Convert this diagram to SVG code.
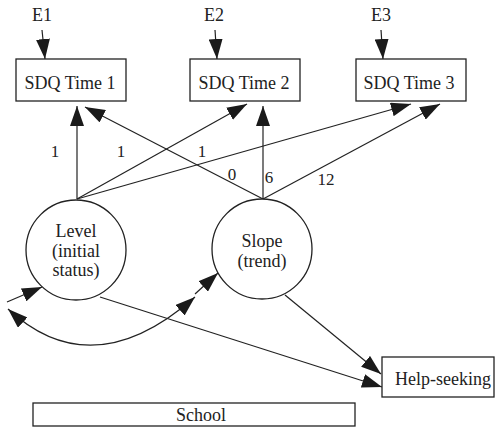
<svg xmlns="http://www.w3.org/2000/svg" width="495" height="427" viewBox="0 0 495 427">
<defs>
<marker id="ah" viewBox="0 0 20 14" refX="20" refY="7" markerWidth="20" markerHeight="14" markerUnits="userSpaceOnUse" orient="auto-start-reverse">
<path d="M0,0 L20,7 L0,14 z" fill="#1a1a1a"/>
</marker>
<style>
.box{fill:#fff;stroke:#222;stroke-width:1.3}
.lat{fill:#fff;stroke:#222;stroke-width:1.3}
.t{font-family:"Liberation Serif","Times New Roman",serif;font-size:18px;fill:#222;text-anchor:middle}
.n{font-family:"Liberation Serif","Times New Roman",serif;font-size:17px;fill:#222;text-anchor:middle}
.c{fill:none;stroke:#222;stroke-width:1.2;marker-end:url(#ah)}
</style>
</defs>
<g id="connectors">
<line class="c" x1="42" y1="30" x2="45" y2="59"/>
<line class="c" x1="215" y1="30" x2="217" y2="59"/>
<line class="c" x1="381" y1="30" x2="383" y2="59"/>
<line class="c" x1="77" y1="199" x2="77" y2="106"/>
<line class="c" x1="77" y1="199" x2="247" y2="104"/>
<line class="c" x1="77" y1="199" x2="411" y2="104"/>
<line class="c" x1="263" y1="199" x2="85" y2="107"/>
<line class="c" x1="263" y1="199" x2="263" y2="106"/>
<line class="c" x1="263" y1="199" x2="440" y2="104"/>
<line class="c" x1="100" y1="297" x2="382" y2="387"/>
<line class="c" x1="285" y1="295" x2="381" y2="374"/>
<line class="c" x1="7" y1="302" x2="42" y2="287"/>
<line class="c" x1="195" y1="294" x2="218" y2="273"/>
<path class="c" d="M8,309 Q92.5,387 195,297" style="marker-start:url(#ah)"/>
<text class="n" x="55" y="157">1</text>
<text class="n" x="121" y="157">1</text>
<text class="n" x="202" y="157">1</text>
<text class="n" x="232" y="180">0</text>
<text class="n" x="269" y="183">6</text>
<text class="n" x="326" y="185">12</text>
</g>
<g id="E1"><text class="t" x="42" y="21">E1</text></g>
<g id="E2"><text class="t" x="214" y="21">E2</text></g>
<g id="E3"><text class="t" x="381" y="21">E3</text></g>
<g id="sdq1"><rect class="box" x="16" y="59" width="110" height="42"/><text class="t" x="70" y="89">SDQ Time 1</text></g>
<g id="sdq2"><rect class="box" x="190" y="59" width="110" height="42"/><text class="t" x="244" y="89">SDQ Time 2</text></g>
<g id="sdq3"><rect class="box" x="356" y="59" width="110" height="42"/><text class="t" x="409" y="89">SDQ Time 3</text></g>
<g id="level"><circle class="lat" cx="76" cy="250" r="50"/><text class="t" x="76" y="237">Level</text><text class="t" x="76" y="257">(initial</text><text class="t" x="76" y="276">status)</text></g>
<g id="slope"><circle class="lat" cx="262" cy="249" r="50"/><text class="t" x="262" y="247">Slope</text><text class="t" x="262" y="267">(trend)</text></g>
<g id="help"><rect class="box" x="382" y="357" width="112" height="40"/><text class="t" x="443" y="385">Help-seeking</text></g>
<g id="school"><rect class="box" x="33" y="403" width="322" height="23"/><text class="t" x="201" y="421">School</text></g>
</svg>
